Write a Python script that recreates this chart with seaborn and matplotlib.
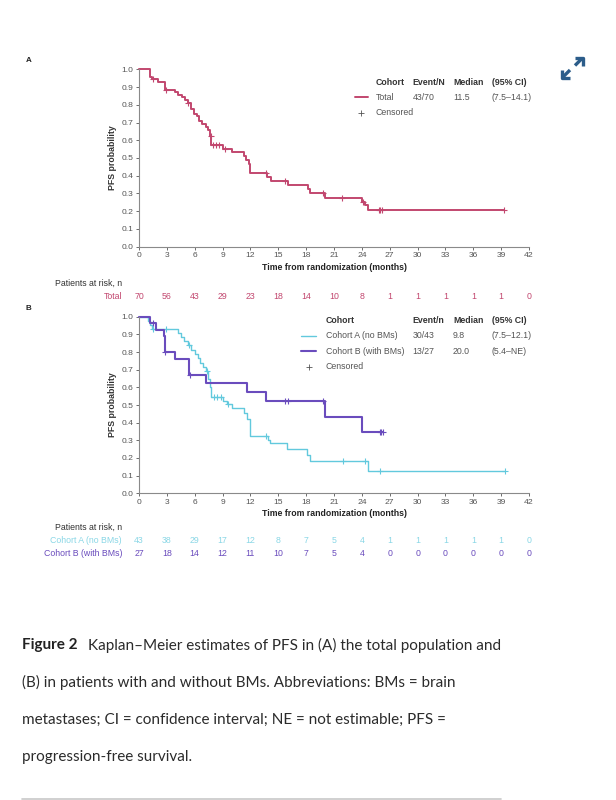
import numpy as np
import matplotlib.pyplot as plt
import matplotlib.transforms as mtransforms
from matplotlib.lines import Line2D
import seaborn as sns

sns.set_theme(style="white")
plt.rcParams["font.family"] = ["Liberation Sans", "DejaVu Sans"]

# ---------------------------------------
# Data
# ---------------------------------------
months = list(range(0, 43, 3))

# (A) total population: step times and PFS after each step
total_t = [0, 1.2, 1.4, 2.0, 2.8, 3.9, 4.2, 4.6, 4.9, 5.3, 5.6, 5.9, 6.2, 6.5, 6.8,
           7.2, 7.4, 7.6, 7.8, 9.0, 10.0, 11.3, 11.5, 11.8, 12.0, 13.8, 14.2, 16.0,
           18.2, 18.4, 20.0, 24.0, 24.3, 24.7, 39.3]
total_s = [1.0, 0.957, 0.943, 0.929, 0.886, 0.871, 0.857, 0.843, 0.829, 0.808, 0.779,
           0.750, 0.735, 0.707, 0.690, 0.673, 0.656, 0.626, 0.571, 0.552, 0.532, 0.51,
           0.49, 0.466, 0.415, 0.393, 0.372, 0.350, 0.325, 0.303, 0.276, 0.250, 0.236,
           0.207, 0.207]
total_cens = [1.5, 2.9, 5.3, 7.7, 8.0, 8.3, 8.6, 9.3, 13.7, 15.7, 19.85, 21.9, 24.1,
              25.8, 26.0, 26.15, 39.3]
total_risk = [70, 56, 43, 29, 23, 18, 14, 10, 8, 1, 1, 1, 1, 1, 0]

# (B) cohort A (no BMs)
coha_t = [0, 1.0, 1.2, 1.4, 4.15, 4.5, 4.8, 5.3, 5.6, 6.0, 6.3, 6.6, 6.9, 7.2, 7.4,
          7.6, 7.8, 9.0, 9.5, 10.0, 11.3, 11.6, 12.0, 13.9, 14.1, 15.9, 18.1, 18.4,
          24.7, 39.4]
coha_s = [1.0, 0.977, 0.953, 0.930, 0.907, 0.884, 0.860, 0.838, 0.814, 0.790, 0.765,
          0.740, 0.715, 0.690, 0.645, 0.600, 0.545, 0.525, 0.507, 0.483, 0.455, 0.420,
          0.324, 0.300, 0.284, 0.252, 0.217, 0.185, 0.128, 0.128]
coha_cens = [1.5, 2.9, 5.4, 7.3, 8.1, 8.4, 8.8, 9.6, 13.7, 22.0, 24.3, 26.0, 39.4]
coha_risk = [43, 38, 29, 17, 12, 8, 7, 5, 4, 1, 1, 1, 1, 1, 0]

# (B) cohort B (with BMs)
cohb_t = [0, 1.2, 1.8, 2.7, 2.75, 2.8, 3.9, 5.4, 7.2, 11.6, 13.7, 20.0, 24.0, 26.3]
cohb_s = [1.0, 0.963, 0.926, 0.889, 0.852, 0.80, 0.76, 0.67, 0.625, 0.574, 0.523,
          0.434, 0.349, 0.349]
cohb_cens = [1.5, 2.8, 5.5, 15.7, 16.0, 19.85, 25.9, 26.1, 26.25]
cohb_risk = [27, 18, 14, 12, 11, 10, 7, 5, 4, 0, 0, 0, 0, 0, 0]

C_TOTAL = "#c2476f"
C_A = "#62c9dd"
C_B = "#6a4cbd"
C_A_TXT = "#8ad7e6"
GREY = "#555555"
FS = 6.3

W, H = 616, 800
fig = plt.figure(figsize=(W / 100, H / 100), dpi=100)


def fx(px):
    return px / W


def fy(py):
    return 1 - py / H


def km(ax, t, s, cens, color, lw):
    sns.lineplot(x=t, y=s, ax=ax, color=color, lw=lw, drawstyle="steps-post",
                 estimator=None, sort=False, clip_on=False)
    idx = np.searchsorted(t, cens, side="right") - 1
    cy = np.array(s)[idx]
    ax.plot(cens, cy, ls="none", marker="+", ms=4, mew=0.8, color=color, clip_on=False)


def style_axes(ax):
    ax.set_xlim(0, 42)
    ax.set_ylim(0, 1)
    ax.set_xticks(months)
    ax.set_yticks(np.round(np.arange(0, 1.01, 0.1), 1))
    ax.set_yticklabels([f"{v:.1f}" for v in np.arange(0, 1.01, 0.1)])
    sns.despine(ax=ax)
    for sp in ["left", "bottom"]:
        ax.spines[sp].set_color("#8a8a8a")
        ax.spines[sp].set_linewidth(0.8)
    ax.tick_params(axis="both", labelsize=6.1, colors=GREY, length=2.5, width=0.6,
                   pad=1.5, direction="out", bottom=True, left=True)
    ax.set_ylabel("PFS probability", fontsize=6.3, fontweight="bold", color="#333333",
                  labelpad=3)
    ax.set_xlabel("Time from randomization (months)", fontsize=6.3, fontweight="bold",
                  color="#222222", labelpad=2.5)


def risk_row(ax, label, counts, py, color):
    tr = mtransforms.blended_transform_factory(ax.transData, fig.transFigure)
    for m, n in zip(months, counts):
        ax.text(m, fy(py), str(n), transform=tr, ha="center", va="center",
                fontsize=FS, color=color)
    fig.text(fx(122), fy(py), label, ha="right", va="center", fontsize=FS, color=color)


# ---------------------------------------
# Panel A
# ---------------------------------------
axA = fig.add_axes([fx(139), fy(246.7), fx(529) - fx(139), (246.7 - 69.3) / H])
km(axA, total_t, total_s, total_cens, C_TOTAL, 1.4)
style_axes(axA)
fig.text(fx(26), fy(61), "A", fontsize=5.8, fontweight="bold", color="#222222",
         va="center")

hdr_cols = [376, 412.7, 453, 491.7]
for x, h in zip(hdr_cols, ["Cohort", "Event/N", "Median", "(95% CI)"]):
    fig.text(fx(x), fy(82.3), h, fontsize=FS, fontweight="bold", color="#333333",
             va="center")
for x, h in zip(hdr_cols, ["Total", "43/70", "11.5", "(7.5\u201314.1)"]):
    fig.text(fx(x), fy(97.3), h, fontsize=FS, color=GREY, va="center")
fig.add_artist(Line2D([fx(355), fx(368)], [fy(97.3), fy(97.3)], color=C_TOTAL, lw=1.4,
                      transform=fig.transFigure))
fig.add_artist(Line2D([fx(361)], [fy(112.7)], marker="+", ms=4, mew=0.6, color=GREY,
                      transform=fig.transFigure))
fig.text(fx(376), fy(112.7), "Censored", fontsize=FS, color=GREY, va="center")

fig.text(fx(55), fy(283.8), "Patients at risk, n", fontsize=FS, color="#333333",
         va="center")
risk_row(axA, "Total", total_risk, 296.2, C_TOTAL)

# ---------------------------------------
# Panel B
# ---------------------------------------
axB = fig.add_axes([fx(139), fy(493.3), fx(529) - fx(139), (493.3 - 316.7) / H])
km(axB, coha_t, coha_s, coha_cens, C_A, 1.0)
km(axB, cohb_t, cohb_s, cohb_cens, C_B, 1.5)
style_axes(axB)
fig.text(fx(26), fy(308), "B", fontsize=5.8, fontweight="bold", color="#222222",
         va="center")

hdr_cols_b = [326, 412.7, 453, 491.7]
for x, h in zip(hdr_cols_b, ["Cohort", "Event/n", "Median", "(95% CI)"]):
    fig.text(fx(x), fy(320.7), h, fontsize=FS, fontweight="bold", color="#333333",
             va="center")
rows_b = [("Cohort A (no BMs)", "30/43", "9.8", "(7.5\u201312.1)"),
          ("Cohort B (with BMs)", "13/27", "20.0", "(5.4\u2013NE)")]
for py, row, col, lw in zip([335.7, 351.0], rows_b, [C_A, C_B], [1.0, 1.5]):
    for x, h in zip(hdr_cols_b, row):
        fig.text(fx(x), fy(py), h, fontsize=FS, color=GREY, va="center")
    fig.add_artist(Line2D([fx(301), fx(316)], [fy(py), fy(py)], color=col, lw=lw,
                          transform=fig.transFigure))
fig.add_artist(Line2D([fx(308.5)], [fy(366.7)], marker="+", ms=4, mew=0.6, color=GREY,
                      transform=fig.transFigure))
fig.text(fx(326), fy(366.7), "Censored", fontsize=FS, color=GREY, va="center")

fig.text(fx(55), fy(527), "Patients at risk, n", fontsize=FS, color="#333333",
         va="center")
risk_row(axB, "Cohort A (no BMs)", coha_risk, 540.2, C_A_TXT)
risk_row(axB, "Cohort B (with BMs)", cohb_risk, 553.8, C_B)

# ---------------------------------------
# Expand icon (double arrow) and caption
# ---------------------------------------
icon = dict(color="#2c5d8a", lw=2.4, solid_capstyle="butt", transform=fig.transFigure)
fig.add_artist(Line2D([fx(563), fx(570)], [fy(77), fy(70)], **icon))
fig.add_artist(Line2D([fx(575), fx(582)], [fy(65.5), fy(58.5)], **icon))
fig.add_artist(Line2D([fx(562), fx(562), fx(570)], [fy(69.5), fy(78), fy(78)], **icon))
fig.add_artist(Line2D([fx(575), fx(583), fx(583)], [fy(57.5), fy(57.5), fy(66)], **icon))

cap_font = ["Lato", "DejaVu Sans"]
cap_lines = [
    "Kaplan\u2013Meier estimates of PFS in (A) the total population and",
    "(B) in patients with and without BMs. Abbreviations: BMs = brain",
    "metastases; CI = confidence interval; NE = not estimable; PFS =",
    "progression-free survival.",
]
cap_y = [645, 682.3, 720, 756.7]
t0 = fig.text(fx(22), fy(cap_y[0]), "Figure 2", fontsize=11, fontweight="bold",
              family=cap_font, color="#222222", va="center")
fig.canvas.draw()
bb = t0.get_window_extent()
fig.text(bb.x1 / W + fx(10), fy(cap_y[0]), cap_lines[0], fontsize=11,
         family=cap_font, color="#2b2b2b", va="center")
for py, line in zip(cap_y[1:], cap_lines[1:]):
    fig.text(fx(22), fy(py), line, fontsize=11, family=cap_font, color="#2b2b2b",
             va="center")
fig.add_artist(Line2D([fx(22), fx(501)], [fy(798.5), fy(798.5)], color="#c8c8c8",
                      lw=1.2, transform=fig.transFigure))

fig.savefig("out.png", dpi=100, facecolor="white")
